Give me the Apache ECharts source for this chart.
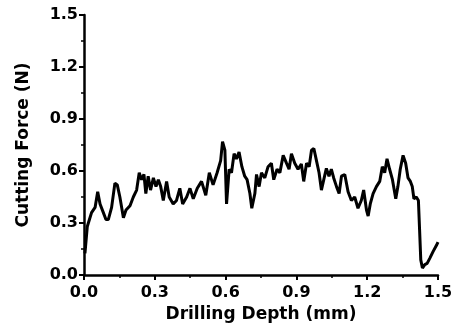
<!DOCTYPE html>
<html>
<head>
<meta charset="utf-8">
<script src="https://cdn.jsdelivr.net/npm/echarts@6/dist/echarts.min.js"></script>
<style>
  html, body { margin: 0; padding: 0; background: #fff; }
  #chart { width: 457px; height: 331px; }
</style>
</head>
<body>
<div id="chart"></div>
<script>
// drilling depth (mm) and cutting force (N)
const depth = [0.004, 0.014, 0.023, 0.032, 0.047, 0.058, 0.068, 0.082, 0.093, 0.103,
    0.117, 0.131, 0.141, 0.152, 0.167, 0.178, 0.195, 0.209, 0.223, 0.234,
    0.244, 0.254, 0.262, 0.272, 0.282, 0.294, 0.305, 0.315, 0.325, 0.336,
    0.35, 0.361, 0.378, 0.392, 0.406, 0.418, 0.435, 0.449, 0.463, 0.48,
    0.498, 0.516, 0.531, 0.547, 0.564, 0.579, 0.587, 0.597, 0.604, 0.615,
    0.625, 0.636, 0.646, 0.657, 0.669, 0.681, 0.691, 0.703, 0.711, 0.724,
    0.731, 0.742, 0.752, 0.766, 0.78, 0.794, 0.804, 0.818, 0.83, 0.844,
    0.858, 0.869, 0.879, 0.893, 0.907, 0.921, 0.931, 0.943, 0.954, 0.964,
    0.974, 0.985, 0.996, 1.006, 1.016, 1.027, 1.038, 1.048, 1.058, 1.07,
    1.081, 1.091, 1.105, 1.119, 1.133, 1.147, 1.161, 1.175, 1.185, 1.197,
    1.204, 1.213, 1.225, 1.239, 1.253, 1.264, 1.274, 1.284, 1.295, 1.307,
    1.321, 1.33, 1.34, 1.352, 1.363, 1.373, 1.383, 1.391, 1.398, 1.408,
    1.417, 1.422, 1.427, 1.434, 1.444, 1.454, 1.465, 1.479, 1.493, 1.5];
const force = [0.125, 0.28, 0.32, 0.36, 0.39, 0.48, 0.41, 0.36, 0.32, 0.32,
    0.39, 0.53, 0.52, 0.45, 0.33, 0.375, 0.40, 0.45, 0.49, 0.59,
    0.55, 0.58, 0.47, 0.57, 0.49, 0.56, 0.51, 0.55, 0.51, 0.43,
    0.54, 0.45, 0.41, 0.43, 0.50, 0.41, 0.45, 0.50, 0.44, 0.50,
    0.54, 0.46, 0.59, 0.52, 0.59, 0.66, 0.77, 0.72, 0.41, 0.61,
    0.59, 0.70, 0.67, 0.71, 0.625, 0.57, 0.55, 0.47, 0.385, 0.47,
    0.58, 0.51, 0.59, 0.56, 0.625, 0.645, 0.55, 0.61, 0.59, 0.69,
    0.645, 0.61, 0.70, 0.645, 0.61, 0.64, 0.54, 0.645, 0.625, 0.72,
    0.73, 0.66, 0.59, 0.49, 0.55, 0.615, 0.57, 0.61, 0.56, 0.51,
    0.47, 0.57, 0.58, 0.48, 0.43, 0.45, 0.385, 0.43, 0.49, 0.375,
    0.34, 0.41, 0.47, 0.51, 0.54, 0.625, 0.59, 0.67, 0.61, 0.55,
    0.44, 0.51, 0.61, 0.69, 0.645, 0.56, 0.54, 0.51, 0.44, 0.45,
    0.43, 0.26, 0.087, 0.04, 0.06, 0.067, 0.096, 0.135, 0.17, 0.19];
const ticks = [0, 0.3, 0.6, 0.9, 1.2, 1.5];

const font = 'DejaVu Sans';
const chart = echarts.init(document.getElementById('chart'));

function axisCommon(name, gap, labelMargin) {
    return {
        type: 'value',
        min: ticks[0],
        max: ticks[ticks.length - 1],
        interval: ticks[1] - ticks[0],
        name: name,
        nameLocation: 'middle',
        nameGap: gap,
        nameTextStyle: { fontFamily: font, fontWeight: 'bold', fontSize: 17, color: '#000' },
        axisLine: { show: true, lineStyle: { color: '#000', width: 2.5 } },
        axisTick: { show: true, inside: false, length: 5, lineStyle: { color: '#000', width: 2 } },
        minorTick: { show: true, splitNumber: 2, length: 3, lineStyle: { color: '#000', width: 1.5 } },
        splitLine: { show: false },
        axisLabel: {
            fontFamily: font, fontWeight: 'bold', fontSize: 16, color: '#000',
            margin: labelMargin,
            formatter: v => v.toFixed(1)
        }
    };
}

chart.setOption({
    animation: false,
    backgroundColor: '#fff',
    grid: { left: 84, right: 19, top: 15, bottom: 56 },
    xAxis: axisCommon('Drilling Depth (mm)', 30, 10),
    yAxis: axisCommon('Cutting Force (N)', 52, 6),
    series: [{
        type: 'line',
        data: depth.map((d, i) => [d, force[i]]),
        symbol: 'none',
        lineStyle: { color: '#000', width: 3 }
    }]
});
</script>
</body>
</html>
